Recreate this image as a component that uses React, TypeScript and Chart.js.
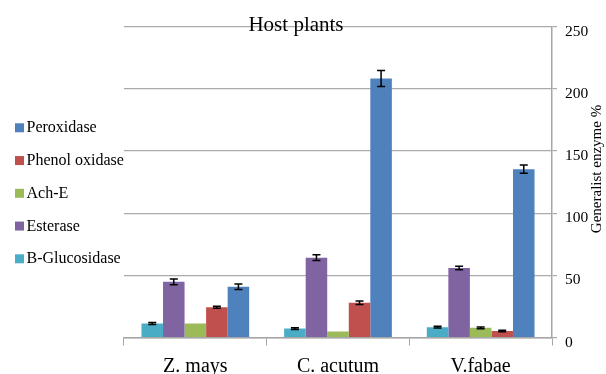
import React, { useEffect, useRef } from "react";
import { Chart, registerables } from "chart.js";

Chart.register(...registerables);

// Host plant groups on the category axis
const categories = ["Z. mays", "C. acutum", "V.fabae"];

// Enzyme activity (%) per host plant, with standard errors
const bGlucosidase = [11.3, 7.2, 8.3];
const bGlucosidaseErr = [0.8, 0.7, 0.7];
const esterase = [44.8, 64.2, 55.9];
const esteraseErr = [2.3, 2.4, 1.4];
const achE = [11.3, 4.8, 7.8];
const achEErr = [0, 0, 0.7];
const phenolOxidase = [24.4, 27.9, 5.3];
const phenolOxidaseErr = [0.8, 1.4, 0.6];
const peroxidase = [40.8, 208.2, 135.3];
const peroxidaseErr = [2.3, 6.4, 3.3];

const yTicks = [0, 50, 100, 150, 200, 250];

const SERIF = "'Liberation Serif', 'Times New Roman', serif";

// Vertical error bars with caps, placed through the chart's own scales
const errorBarPlugin = {
  id: "errorBars",
  afterDatasetsDraw(chart: any) {
    const { ctx } = chart;
    const yScale = chart.scales.y;
    ctx.save();
    ctx.strokeStyle = "#000";
    ctx.lineWidth = 1.5;
    chart.data.datasets.forEach((ds: any, i: number) => {
      const meta = chart.getDatasetMeta(i);
      const errs: number[] = ds.errors || [];
      meta.data.forEach((bar: any, j: number) => {
        const e = errs[j];
        if (!e) return;
        const v = ds.data[j];
        const x = bar.x;
        const top = yScale.getPixelForValue(v + e);
        const bot = yScale.getPixelForValue(v - e);
        const cap = 4;
        ctx.beginPath();
        ctx.moveTo(x, top);
        ctx.lineTo(x, bot);
        ctx.moveTo(x - cap, top);
        ctx.lineTo(x + cap, top);
        ctx.moveTo(x - cap, bot);
        ctx.lineTo(x + cap, bot);
        ctx.stroke();
      });
    });
    ctx.restore();
  },
};

// Title, rotated axis title and the stacked legend at the left
const decorPlugin = {
  id: "decor",
  afterDraw(chart: any) {
    const { ctx, chartArea } = chart;
    ctx.save();
    ctx.fillStyle = "#000";

    ctx.font = `21px ${SERIF}`;
    ctx.textAlign = "center";
    ctx.textBaseline = "alphabetic";
    ctx.fillText("Host plants", chartArea.left + 172, 31);

    ctx.save();
    ctx.translate(597, 169);
    ctx.rotate(-Math.PI / 2);
    ctx.font = `15px ${SERIF}`;
    ctx.textAlign = "center";
    ctx.textBaseline = "middle";
    ctx.fillText("Generalist enzyme %", 0, 0);
    ctx.restore();

    const items = [...chart.data.datasets].reverse();
    ctx.font = `16px ${SERIF}`;
    ctx.textAlign = "left";
    ctx.textBaseline = "alphabetic";
    items.forEach((ds: any, k: number) => {
      const base = 132.3 + k * 32.75;
      ctx.fillStyle = ds.backgroundColor;
      ctx.fillRect(15, base - 9, 9, 9);
      ctx.fillStyle = "#000";
      ctx.fillText(ds.label, 26.5, base);
    });
    ctx.restore();
  },
};

export default function App() {
  const canvasRef = useRef<HTMLCanvasElement | null>(null);

  useEffect(() => {
    if (!canvasRef.current) return;
    const chart = new Chart(canvasRef.current, {
      type: "bar",
      data: {
        labels: categories,
        datasets: [
          { label: "B-Glucosidase", data: bGlucosidase, errors: bGlucosidaseErr, backgroundColor: "#4BACC6" },
          { label: "Esterase", data: esterase, errors: esteraseErr, backgroundColor: "#8064A2" },
          { label: "Ach-E", data: achE, errors: achEErr, backgroundColor: "#9BBB59" },
          { label: "Phenol oxidase", data: phenolOxidase, errors: phenolOxidaseErr, backgroundColor: "#C0504D" },
          { label: "Peroxidase", data: peroxidase, errors: peroxidaseErr, backgroundColor: "#4F81BD" },
        ] as any,
      },
      options: {
        animation: false,
        responsive: false,
        layout: { padding: { left: 124, top: 26.5, right: 0, bottom: 0 } },
        datasets: { bar: { categoryPercentage: 0.755, barPercentage: 1.0 } },
        plugins: {
          legend: { display: false },
          title: { display: false },
          tooltip: { enabled: false },
        },
        scales: {
          x: {
            grid: {
              display: true,
              drawOnChartArea: false,
              drawTicks: true,
              tickLength: 8,
              color: "#a6a6a6",
              offset: true,
            },
            border: { display: true, color: "#a6a6a6", width: 1.5 },
            ticks: { font: { family: SERIF, size: 20 }, color: "#000", padding: 9 },
            afterFit: (s: any) => {
              s.height = 36.5;
            },
          },
          y: {
            position: "right",
            min: 0,
            max: 250,
            afterBuildTicks: (s: any) => {
              s.ticks = yTicks.map((v) => ({ value: v }));
            },
            ticks: { font: { family: SERIF, size: 15.5 }, color: "#000", padding: 8, labelOffset: 5 },
            grid: { color: "#ababab", tickLength: 5, drawTicks: true, lineWidth: 1.2 },
            border: { display: true, color: "#a6a6a6", width: 1.5 },
            afterFit: (s: any) => {
              s.width = 54;
            },
          },
        },
      } as any,
      plugins: [errorBarPlugin, decorPlugin],
    });
    return () => chart.destroy();
  }, []);

  return (
    <div style={{ position: "absolute", left: 0, top: 0, width: 606, height: 374, background: "#fff" }}>
      <canvas ref={canvasRef} width={606} height={374} />
    </div>
  );
}
